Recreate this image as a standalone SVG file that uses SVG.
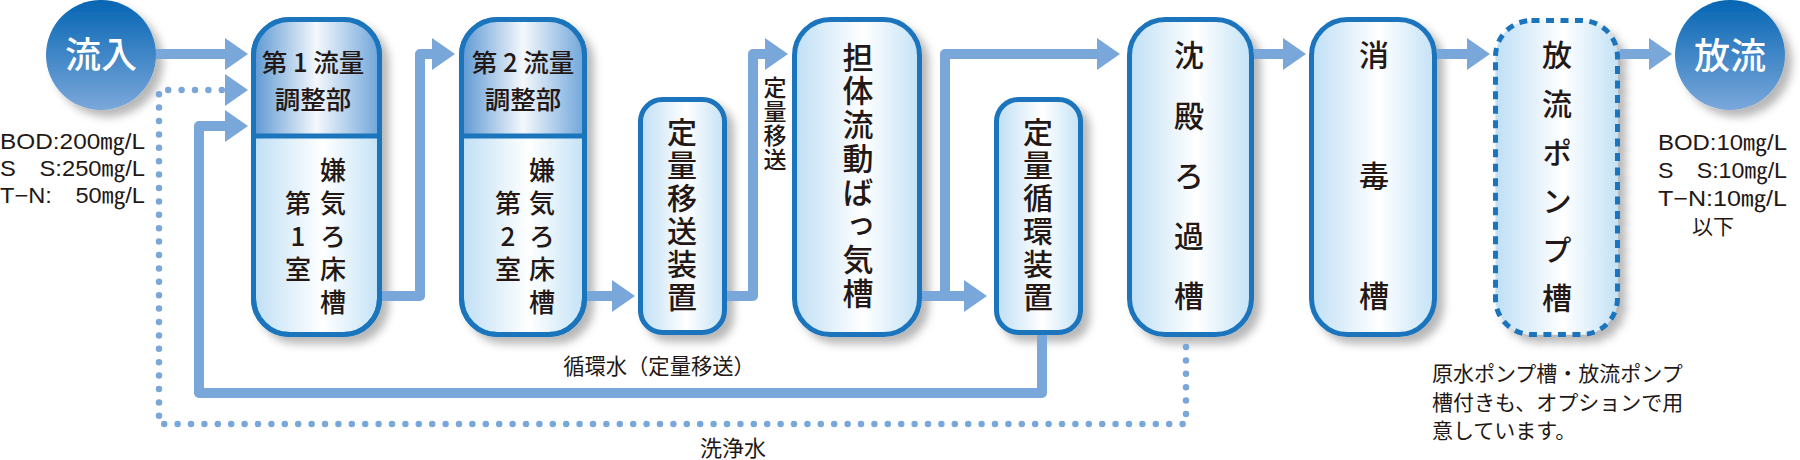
<svg xmlns="http://www.w3.org/2000/svg" width="1800" height="460" viewBox="0 0 1800 460">
<defs>
<style>
.box{stroke:#1a75bc;stroke-width:5;fill:url(#gLight)}
.dash{stroke:#1a75bc;stroke-width:5;fill:url(#gLight);stroke-dasharray:8 6.5}
.top{fill:url(#gTop)}
.div{stroke:#1a75bc;stroke-width:5}
.t{font-family:"Noto Sans CJK JP","Liberation Sans",sans-serif;fill:#231815;font-weight:500;text-anchor:middle}
.v{font-family:"Noto Sans CJK JP","Liberation Sans",sans-serif;fill:#231815;font-weight:500;writing-mode:vertical-rl;text-orientation:upright;text-anchor:start}
.tl{font-family:"Liberation Sans","Noto Sans CJK JP",sans-serif;fill:#231815;font-size:22px}
.tj{font-family:"Noto Sans CJK JP","Liberation Sans",sans-serif;fill:#231815}
.c{fill:none;stroke:#7aa7d9;stroke-width:10;stroke-linejoin:round}
.dot{fill:none;stroke:#7aa7d9;stroke-width:6.5;stroke-linecap:round;stroke-dasharray:0 13.4}
.ah{fill:#7aa7d9}
.w{font-family:"Noto Sans CJK JP",sans-serif;fill:#fff;font-size:36px;font-weight:500;text-anchor:middle}
</style>
<linearGradient id="gLight" x1="0" y1="0" x2="1" y2="0">
<stop offset="0" stop-color="#bfdff5"/>
<stop offset="0.55" stop-color="#ffffff"/>
<stop offset="1" stop-color="#c3e2f6"/>
</linearGradient>
<linearGradient id="gTop" x1="0" y1="0" x2="1" y2="0">
<stop offset="0" stop-color="#5d98d3"/>
<stop offset="0.5" stop-color="#f4f8fc"/>
<stop offset="1" stop-color="#6fa5da"/>
</linearGradient>
<linearGradient id="gCircle" x1="0" y1="0" x2="0" y2="1">
<stop offset="0" stop-color="#0565b3"/>
<stop offset="1" stop-color="#7ba8db"/>
</linearGradient>
<filter id="sh" x="-20%" y="-10%" width="140%" height="130%">
<feDropShadow dx="7" dy="7" stdDeviation="4" flood-color="#000" flood-opacity="0.28"/>
</filter>
<marker id="arr" markerUnits="userSpaceOnUse" markerWidth="23" markerHeight="32" refX="10" refY="16" orient="auto">
<path d="M0,0 L23,16 L0,32 Z" fill="#7aa7d9"/>
</marker>
</defs>

<g id="inflow">
<circle cx="101" cy="55" r="55" fill="url(#gCircle)" filter="url(#sh)"/>
<text class="w" x="101" y="68">流入</text>
</g>

<g id="inflow-quality">
<text class="tl" x="0" y="149" textLength="145" lengthAdjust="spacingAndGlyphs">BOD:200㎎/L</text>
<text class="tl" x="0" y="176" textLength="145" lengthAdjust="spacingAndGlyphs">S　S:250㎎/L</text>
<text class="tl" x="0" y="203" textLength="145" lengthAdjust="spacingAndGlyphs">T−N:　50㎎/L</text>
</g>

<g id="tank1">
<rect class="box" x="253.5" y="19.5" width="126" height="315" rx="36" filter="url(#sh)"/>
<path class="top" d="M253.5,136 V55.5 A36,36 0 0 1 289.5,19.5 H343.5 A36,36 0 0 1 379.5,55.5 V136 Z"/>
<rect x="253.5" y="19.5" width="126" height="315" rx="36" fill="none" stroke="#1a75bc" stroke-width="5"/>
<line class="div" x1="253.5" y1="136" x2="379.5" y2="136"/>
<text class="t" x="313" y="72" font-size="25.5">第 1 流量</text>
<text class="t" x="313" y="109" font-size="25.5">調整部</text>
<text class="v" x="333" y="157" font-size="26" letter-spacing="7">嫌気ろ床槽</text>
<text class="v" x="298" y="190" font-size="26" letter-spacing="7">第1室</text>
</g>

<g id="tank2">
<rect class="box" x="461.5" y="19.5" width="123" height="315" rx="36" filter="url(#sh)"/>
<path class="top" d="M461.5,136 V55.5 A36,36 0 0 1 497.5,19.5 H548.5 A36,36 0 0 1 584.5,55.5 V136 Z"/>
<rect x="461.5" y="19.5" width="123" height="315" rx="36" fill="none" stroke="#1a75bc" stroke-width="5"/>
<line class="div" x1="461.5" y1="136" x2="584.5" y2="136"/>
<text class="t" x="523" y="72" font-size="25.5">第 2 流量</text>
<text class="t" x="523" y="109" font-size="25.5">調整部</text>
<text class="v" x="542" y="157" font-size="26" letter-spacing="7">嫌気ろ床槽</text>
<text class="v" x="508" y="190" font-size="26" letter-spacing="7">第2室</text>
</g>

<g id="transfer">
<rect class="box" x="640.5" y="99.5" width="84" height="233" rx="22" filter="url(#sh)"/>
<text class="v" x="682" y="117" font-size="30" letter-spacing="3">定量移送装置</text>
</g>

<g id="aeration">
<rect class="box" x="794.5" y="19.5" width="125" height="315" rx="36" filter="url(#sh)"/>
<text class="v" x="858" y="41.5" font-size="31" letter-spacing="2.7">担体流動ばっ気槽</text>
</g>

<g id="circulation">
<rect class="box" x="996.5" y="99.5" width="84" height="233" rx="22" filter="url(#sh)"/>
<text class="v" x="1038" y="117" font-size="30" letter-spacing="3">定量循環装置</text>
</g>

<g id="sedimentation">
<rect class="box" x="1129.5" y="19.5" width="122" height="315" rx="36" filter="url(#sh)"/>
<text class="v" x="1189" y="40" font-size="30" letter-spacing="30.2">沈殿ろ過槽</text>
</g>

<g id="disinfection">
<rect class="box" x="1311.5" y="19.5" width="123" height="315" rx="36" filter="url(#sh)"/>
<text class="v" x="1374" y="40" font-size="30" letter-spacing="90.5">消毒槽</text>
</g>

<g id="pump">
<rect class="dash" x="1495.5" y="20.5" width="122" height="314" rx="36" filter="url(#sh)"/>
<text class="v" x="1557" y="40" font-size="30" letter-spacing="18.6">放流ポンプ槽</text>
</g>

<g id="outflow">
<circle cx="1730" cy="55" r="55" fill="url(#gCircle)" filter="url(#sh)"/>
<text class="w" x="1730" y="69">放流</text>
</g>

<g id="outflow-quality">
<text class="tl" x="1658" y="150" textLength="129" lengthAdjust="spacingAndGlyphs">BOD:10㎎/L</text>
<text class="tl" x="1658" y="178" textLength="129" lengthAdjust="spacingAndGlyphs">S　S:10㎎/L</text>
<text class="tl" x="1658" y="206" textLength="129" lengthAdjust="spacingAndGlyphs">T−N:10㎎/L</text>
<text class="tj" x="1692" y="234" font-size="21">以下</text>
</g>

<g id="note">
<text class="tj" x="1432" y="381" font-size="21">原水ポンプ槽・放流ポンプ</text>
<text class="tj" x="1432" y="410" font-size="21">槽付きも、オプションで用</text>
<text class="tj" x="1432" y="438" font-size="21">意しています。</text>
</g>

<g id="connectors">
<path class="c" d="M156,54 H235" marker-end="url(#arr)"/>
<path class="dot" d="M1186,347 V424 H159 V90 H222"/>
<polygon class="ah" points="225,74 248,90 225,106"/>
<path class="c" d="M1042,335 V393 H199 V126 H235" marker-end="url(#arr)"/>
<path class="c" d="M382,296 H420 V54 H442" marker-end="url(#arr)"/>
<path class="c" d="M587,296 H622" marker-end="url(#arr)"/>
<path class="c" d="M727,296 H753 V54 H775" marker-end="url(#arr)"/>
<path class="c" d="M922,296 H974" marker-end="url(#arr)"/>
<path class="c" d="M945,296 V54 H1107" marker-end="url(#arr)"/>
<path class="c" d="M1254,54 H1293" marker-end="url(#arr)"/>
<path class="c" d="M1437,54 H1477" marker-end="url(#arr)"/>
<path class="c" d="M1620,54 H1659" marker-end="url(#arr)"/>
<text class="v" x="775" y="75.5" font-size="23" font-weight="400" letter-spacing="1">定量移送</text>
<text class="tj" x="659" y="374" font-size="21.3" text-anchor="middle">循環水（定量移送）</text>
<text class="tj" x="733" y="456" font-size="22" text-anchor="middle">洗浄水</text>
</g>
</svg>
